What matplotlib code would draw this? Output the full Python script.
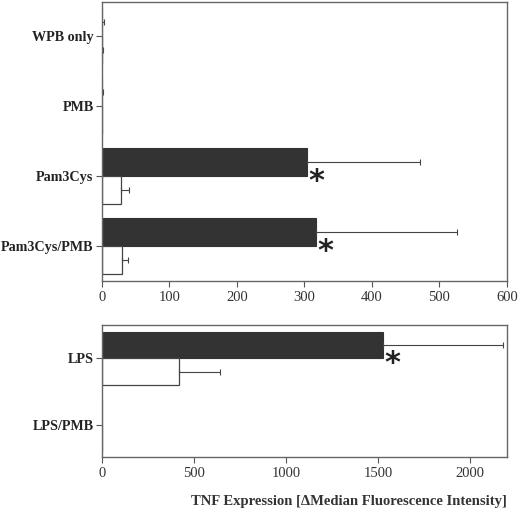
import matplotlib
matplotlib.use('Agg')
import matplotlib.pyplot as plt
import numpy as np

plt.rcParams['font.family'] = ['Liberation Serif', 'DejaVu Serif']

# upper panel
top_labels = ['WPB only', 'PMB', 'Pam3Cys', 'Pam3Cys/PMB']
top_dark = [0, 0, 304, 317]
top_dark_err = [3, 2, 167, 209]
top_white = [0, 0, 29, 30]
top_white_err = [2, 0, 11, 9]
top_star = [False, False, True, True]

# lower panel
bot_labels = ['LPS', 'LPS/PMB']
bot_dark = [1525, 0]
bot_dark_err = [652, 0]
bot_white = [418, 0]
bot_white_err = [223, 0]
bot_star = [True, False]

dark = '#333333'
edge = '#444444'

fig = plt.figure(figsize=(5.2, 5.25), dpi=100)
ax1 = fig.add_axes([0.196, 0.465, 0.779, 0.531])
ax2 = fig.add_axes([0.196, 0.130, 0.779, 0.251])

def panel(ax, labels, dv, de, wv, we, stars, xlim, xticks, star_off, ylim):
  y = np.arange(len(labels))
  h = 0.4
  ax.barh(y - h / 2, dv, height=h, color=dark, edgecolor=dark, linewidth=0.8)
  ax.barh(y + h / 2, wv, height=h, color='white', edgecolor=edge, linewidth=0.9)
  for i in range(len(labels)):
    if de[i] > 0:
      ax.errorbar(dv[i] + de[i] / 2, y[i] - h / 2, xerr=[[de[i] / 2], [de[i] / 2]], fmt='none',
                  ecolor=edge, elinewidth=0.8, capsize=2, capthick=0.8)
    if we[i] > 0:
      ax.errorbar(wv[i] + we[i] / 2, y[i] + h / 2, xerr=[[we[i] / 2], [we[i] / 2]], fmt='none',
                  ecolor=edge, elinewidth=0.8, capsize=2, capthick=0.8)
    if stars[i]:
      ax.text(dv[i] + star_off, y[i] + 0.08, '*', fontsize=22, fontweight='bold',
              ha='center', va='center', color='#222222', family='DejaVu Sans')
  ax.set_yticks(y)
  ax.set_yticklabels(labels, fontweight='bold', fontsize=10.2, color='#222222')
  ax.set_xlim(*xlim)
  ax.set_xticks(xticks)
  ax.set_ylim(*ylim)
  ax.tick_params(axis='both', direction='out', length=4, width=0.8, color='#555555')
  ax.tick_params(axis='y', pad=2)
  ax.tick_params(axis='x', labelsize=10.5, labelcolor='#333333')
  for s in ax.spines.values():
    s.set_color('#666666')
    s.set_linewidth(1.0)

panel(ax1, top_labels, top_dark, top_dark_err, top_white, top_white_err, top_star,
      (0, 600), range(0, 601, 100), 14, (3.5, -0.49))
panel(ax2, bot_labels, bot_dark, bot_dark_err, bot_white, bot_white_err, bot_star,
      (0, 2200), range(0, 2001, 500), 50, (1.47, -0.5))

fig.text(0.975, 0.044, 'TNF Expression [\u0394Median Fluorescence Intensity]',
         ha='right', va='center', fontsize=10.5, fontweight='bold', color='#333333')

fig.savefig('out.png', dpi=100)
